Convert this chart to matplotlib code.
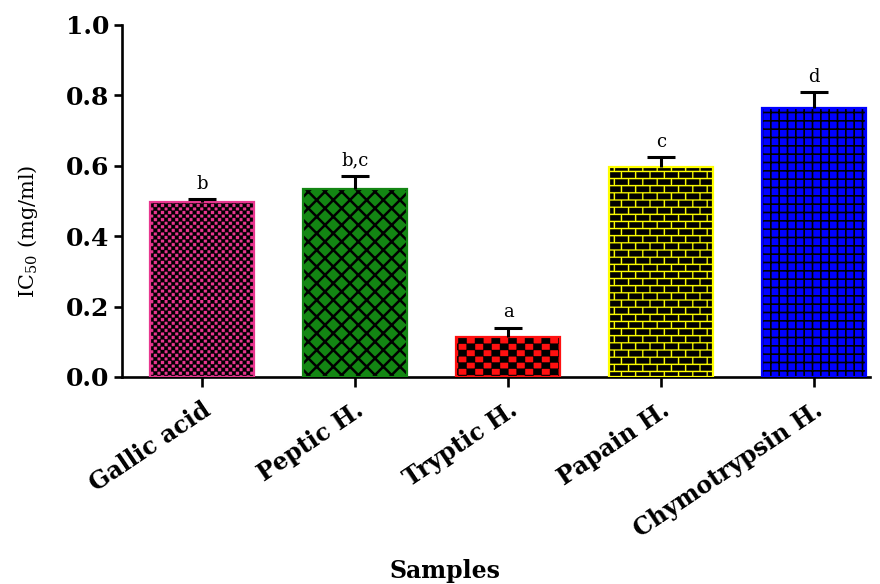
import warnings
import numpy as np
import matplotlib
matplotlib.use("Agg")
import matplotlib.pyplot as plt
from matplotlib import hatch as mhatch
from matplotlib.path import Path
from matplotlib.transforms import ScaledTranslation

warnings.filterwarnings("ignore", message=".*hatch must consist.*")

# datos ----------------------------------------------------------------

muestras = ["Gallic acid", "Peptic H.", "Tryptic H.", "Papain H.", "Chymotrypsin H."]
ic50     = [0.497, 0.535, 0.115, 0.598, 0.765]
error    = [0.008, 0.036, 0.025, 0.027, 0.045]
letras   = ["b", "b,c", "a", "c", "d"]

colores  = ["#e8368f", "#138613", "#ff1010", "#ffff00", "#0000ff"]
tramas   = ["f", "xx", "c", "k", "++"]
grosor   = [0.3, 1.8, 0.3, 0.3, 1.2]

# tramas propias (damero y ladrillo) -----------------------------------

class Bloques(mhatch.HatchPatternBase):
    char = None
    ncol = 1
    nfil = 1
    hueco = 0.0
    desfase = 0.0
    paso = 1

    def __init__(self, hatch, density):
        self.rects = []
        if self.char in hatch:
            w = 1.0 / self.ncol
            h = 1.0 / self.nfil
            for r in range(self.nfil):
                off = self.desfase * w if r % 2 else 0.0
                for c in range(-2, self.ncol + 2, self.paso):
                    x0 = c * w + off + self.hueco / 2
                    y0 = r * h + self.hueco / 2
                    self.rects.append((x0, y0, w - self.hueco, h - self.hueco))
        self.num_vertices = len(self.rects) * 5

    def set_vertices_and_codes(self, vertices, codes):
        for i, (x0, y0, w, h) in enumerate(self.rects):
            vertices[i * 5:i * 5 + 5] = [(x0, y0), (x0 + w, y0), (x0 + w, y0 + h),
                                         (x0, y0 + h), (x0, y0)]
            codes[i * 5:i * 5 + 5] = [Path.MOVETO, Path.LINETO, Path.LINETO,
                                      Path.LINETO, Path.CLOSEPOLY]

class DameroFino(Bloques):
    char, ncol, nfil, desfase, paso = "f", 28, 28, 1.0, 2

class Damero(Bloques):
    char, ncol, nfil, desfase, paso = "c", 12, 16, 1.0, 2

class Ladrillo(Bloques):
    char, ncol, nfil, desfase, paso, hueco = "k", 7, 14, 0.5, 1, 0.018

mhatch._hatch_types.extend([DameroFino, Damero, Ladrillo])

# figura ---------------------------------------------------------------

plt.rcParams["font.family"] = "DejaVu Serif"
plt.rcParams["mathtext.fontset"] = "dejavuserif"
plt.rcParams["hatch.color"] = "black"

fig = plt.figure(figsize=(8.8, 5.84), dpi=100)
ax = fig.add_axes([122 / 880, 1 - 377 / 584, 748 / 880, 352 / 584])

x = np.arange(len(muestras))
for xi, v, col, tr, lw in zip(x, ic50, colores, tramas, grosor):
    plt.rcParams["hatch.linewidth"] = lw
    b = ax.bar(xi, v, width=0.68, color=col, edgecolor="black", linewidth=0,
               hatch=tr, zorder=2)[0]
    if hasattr(b, "set_hatch_linewidth"):
        b.set_hatch_linewidth(lw)
    ax.bar(xi, v, width=0.68, fill=False, edgecolor=col, linewidth=1.6, zorder=3)

_, caps, _ = ax.errorbar(x, ic50, yerr=[np.zeros(len(x)), error], fmt="none",
                         ecolor="black", elinewidth=2.2, capsize=10, capthick=2.2,
                         zorder=4)
for cl in caps:
    if np.allclose(cl.get_ydata(), ic50):
        cl.set_visible(False)

for xi, v, e, t in zip(x, ic50, error, letras):
    ax.text(xi, v + e + 0.018, t, ha="center", va="bottom", fontsize=13)

ax.set_xlim(-0.523, 4.366)
ax.set_ylim(0, 1.0)
ax.set_yticks(np.arange(0, 1.01, 0.2))
ax.set_yticklabels([f"{t:.1f}" for t in np.arange(0, 1.01, 0.2)],
                   fontsize=18, fontweight="bold")
ax.set_xticks(x)
ax.set_xticklabels(muestras, rotation=34, ha="right", va="top",
                   rotation_mode="anchor", fontsize=17, fontweight="bold")
for lab in ax.get_xticklabels():
    lab.set_transform(lab.get_transform() + ScaledTranslation(0.12, 0, fig.dpi_scale_trans))

for s in ["top", "right"]:
    ax.spines[s].set_visible(False)
for s in ["left", "bottom"]:
    ax.spines[s].set_linewidth(1.9)
ax.tick_params(axis="both", direction="out", width=1.9, length=6, pad=3)
ax.tick_params(axis="x", length=7, pad=8)

fig.text(445 / 880, 1 - 571 / 584, "Samples", ha="center", va="center",
         fontsize=17, fontweight="bold")
fig.text(28 / 880, 1 - 231 / 584, "IC$_{50}$ (mg/ml)", ha="center", va="center",
         rotation=90, fontsize=15)

fig.savefig("out.png", dpi=100)
